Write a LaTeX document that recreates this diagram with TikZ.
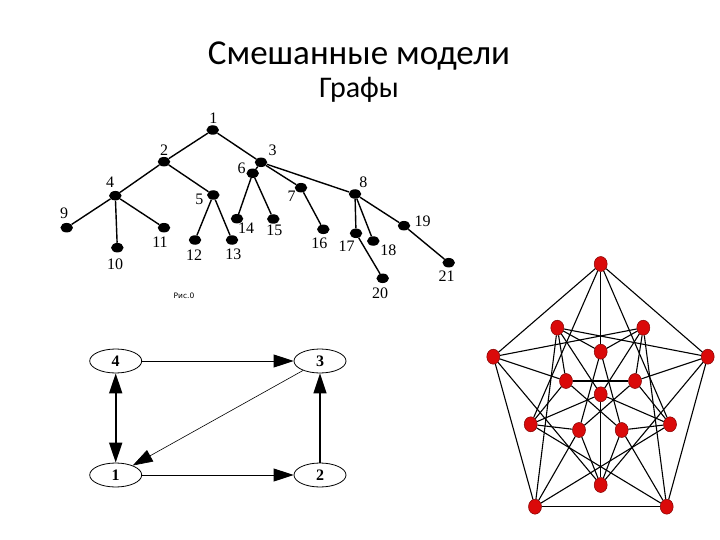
\documentclass[tikz,border=0pt]{standalone}
\usepackage{fontspec}
\setmainfont{Carlito}
\newfontfamily\treefont{Liberation Serif}
\newfontfamily\smallsans{DejaVu Sans}
\usetikzlibrary{arrows.meta,shapes.geometric}
\definecolor{nodered}{RGB}{218,10,10}
\definecolor{nodeedge}{RGB}{130,0,0}
\begin{document}
\begin{tikzpicture}[x=1pt,y=-1pt,
  tdot/.style={ellipse,fill=black,minimum width=12.5pt,minimum height=9.5pt,inner sep=0pt},
  tlab/.style={font=\treefont\fontsize{16}{16}\selectfont,inner sep=0pt},
  tedge/.style={line width=1.4pt,black},
  dnode/.style={ellipse,draw,line width=0.8pt,minimum width=52pt,minimum height=24pt,inner sep=0pt,font=\treefont\bfseries\fontsize{16}{16}\selectfont},
  darr/.style={-{Triangle[length=20pt,width=13pt]},line width=0.9pt},
  rnode/.style={ellipse,fill=nodered,draw=nodeedge,line width=0.5pt,minimum width=13pt,minimum height=15pt,inner sep=0pt},
  redge/.style={line width=1.1pt,black}]
\useasboundingbox (0,0) rectangle (720,540);

% title
\node[anchor=base,font=\fontsize{35}{40}\selectfont,inner sep=0pt] (title) at (359,65) {Смешанные модели};
\node[anchor=base,font=\fontsize{30}{34}\selectfont,inner sep=0pt] (subtitle) at (359,98) {Графы};

% ---------- tree ----------
\node[tdot] (t1) at (212.7,130) {};
\node[tdot] (t2) at (164,161.7) {};
\node[tdot] (t3) at (261,162.3) {};
\node[tdot] (t4) at (115.3,195.7) {};
\node[tdot] (t5) at (213.3,195) {};
\node[tdot] (t6) at (252.7,173.3) {};
\node[tdot] (t7) at (301,187.7) {};
\node[tdot] (t8) at (355,194) {};
\node[tdot] (t9) at (66.7,227.7) {};
\node[tdot] (t10) at (117.3,247.7) {};
\node[tdot] (t11) at (164,227.7) {};
\node[tdot] (t12) at (195,240) {};
\node[tdot] (t13) at (232,240) {};
\node[tdot] (t14) at (237,218.7) {};
\node[tdot] (t15) at (273.3,219) {};
\node[tdot] (t16) at (323.3,229.3) {};
\node[tdot] (t17) at (356,233.3) {};
\node[tdot] (t18) at (373.3,241) {};
\node[tdot] (t19) at (404,225.7) {};
\node[tdot] (t20) at (382.7,278.3) {};
\node[tdot] (t21) at (448.7,262.7) {};

\foreach \a/\b in {t1/t2,t1/t3,t2/t4,t2/t5,t4/t9,t4/t10,t4/t11,t5/t12,t5/t13,
  t3/t6,t3/t7,t3/t8,t6/t14,t6/t15,t7/t16,t8/t17,t8/t18,t8/t19,t17/t20,t19/t21}
  \draw[tedge] (\a) -- (\b);

\node[tlab] (l1) at (213.3,118.3) {1};
\node[tlab] (l2) at (164,150.7) {2};
\node[tlab] (l3) at (272.7,150.7) {3};
\node[tlab] (l4) at (110,182.7) {4};
\node[tlab] (l5) at (199.3,199) {5};
\node[tlab] (l6) at (241.7,168.3) {6};
\node[tlab] (l7) at (291.7,196.7) {7};
\node[tlab] (l8) at (363.3,182.7) {8};
\node[tlab] (l9) at (64,213.3) {9};
\node[tlab] (l10) at (115,264.3) {10};
\node[tlab] (l11) at (160,242.7) {11};
\node[tlab] (l12) at (194,255.3) {12};
\node[tlab] (l13) at (233.3,254) {13};
\node[tlab] (l14) at (246,228.3) {14};
\node[tlab] (l15) at (274.3,230) {15};
\node[tlab] (l16) at (319.3,243.3) {16};
\node[tlab] (l17) at (346.7,246.7) {17};
\node[tlab] (l18) at (388.3,250) {18};
\node[tlab] (l19) at (422.7,221.7) {19};
\node[tlab] (l20) at (380,293.3) {20};
\node[tlab] (l21) at (446.7,276) {21};

\node[font=\smallsans\fontsize{7.5}{8}\selectfont,inner sep=0pt] (cap) at (184,296) {Рис.0};

% ---------- directed graph ----------
\node[dnode] (d4) at (115.7,361) {4};
\node[dnode] (d3) at (320,361) {3};
\node[dnode] (d1) at (115.7,475) {1};
\node[dnode] (d2) at (320,475) {2};

\draw[darr] (d4) -- (d3);
\draw[darr] (d1) -- (d2);
\draw[darr,line width=1.5pt] (d2) -- (d3);
\draw[{Triangle[length=20pt,width=13pt]}-{Triangle[length=20pt,width=13pt]},line width=1.8pt] (d4) -- (d1);
\draw[-{Triangle[length=20pt,width=13pt]},line width=0.6pt] (d3) -- (d1);

% ---------- Clebsch graph ----------
\node[rnode] (T) at (600.7,264) {};
\node[rnode] (OL) at (493.3,356.7) {};
\node[rnode] (OR) at (707.7,356.7) {};
\node[rnode] (BL) at (535,506.7) {};
\node[rnode] (BR) at (666.7,506.7) {};
\node[rnode] (A) at (557.3,327.7) {};
\node[rnode] (B) at (643.3,327.7) {};
\node[rnode] (C) at (600.7,351.7) {};
\node[rnode] (D) at (566,381) {};
\node[rnode] (E) at (635,381) {};
\node[rnode] (F) at (600.7,394.3) {};
\node[rnode] (G) at (530.7,424.3) {};
\node[rnode] (H) at (579,430) {};
\node[rnode] (I) at (621.7,430) {};
\node[rnode] (J) at (670,424.3) {};
\node[rnode] (K) at (600.7,485) {};

\foreach \a/\b in {
  T/OR,OR/BR,BR/BL,BL/OL,OL/T,
  C/H,C/I,D/E,D/I,E/H,
  T/C,OL/D,OR/E,BL/H,BR/I,
  T/G,T/J,OL/K,OL/B,OR/K,OR/A,BL/J,BL/A,BR/G,BR/B,
  C/A,C/B,D/A,D/G,H/G,H/K,I/K,I/J,E/J,E/B,
  F/A,F/B,F/G,F/J,F/K}
  \draw[redge] (\a) -- (\b);

\end{tikzpicture}
\end{document}
